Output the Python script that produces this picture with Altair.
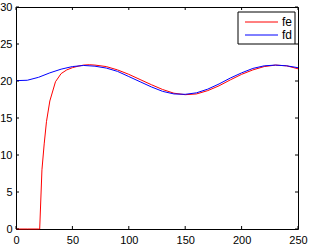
import altair as alt
import pandas as pd

fd_x = [0, 10, 20, 30, 40, 50, 60, 70, 80, 90, 100, 110, 120, 130, 140, 150, 160, 170, 180, 190, 200, 210, 220, 230, 240, 250]
fd_y = [20.05, 20.1, 20.5, 21.1, 21.6, 21.95, 22.1, 22.0, 21.75, 21.3, 20.6, 19.9, 19.2, 18.6, 18.25, 18.2, 18.4, 18.9, 19.6, 20.4, 21.1, 21.7, 22.05, 22.15, 22.05, 21.8]

fe_x = [0, 10, 20, 21, 23, 25, 27, 30, 35, 40, 45, 50, 55, 60, 65, 70, 80, 90, 100, 110, 120, 130, 140, 150, 160, 170, 180, 190, 200, 210, 220, 230, 240, 250]
fe_y = [0, 0, 0, 0, 8, 11.5, 14.5, 17.3, 19.9, 21.0, 21.5, 21.8, 22.0, 22.15, 22.2, 22.15, 21.95, 21.5, 20.9, 20.2, 19.5, 18.85, 18.35, 18.15, 18.25, 18.7, 19.35, 20.15, 20.9, 21.5, 21.95, 22.15, 22.05, 21.65]

x_ticks = [0, 50, 100, 150, 200, 250]
y_ticks = [0, 5, 10, 15, 20, 25, 30]
series = ["fe", "fd"]
colors = ["#ff0000", "#0000ff"]

W, H = 282, 222
FONT = "Liberation Sans"

df = pd.concat([
    pd.DataFrame({"x": fe_x, "y": fe_y, "s": "fe", "o": range(len(fe_x))}),
    pd.DataFrame({"x": fd_x, "y": fd_y, "s": "fd", "o": range(len(fd_x))}),
])

xs = alt.Scale(domain=[0, 250], nice=False)
ys = alt.Scale(domain=[0, 30], nice=False)
xa = alt.Axis(values=x_ticks, title=None, ticks=False, domain=False, grid=False,
              labelFont=FONT, labelFontSize=11, labelColor="#000",
              labelPadding=5, labelFlush=False, labelOverlap=False)
ya = alt.Axis(values=y_ticks, title=None, ticks=False, domain=False, grid=False,
              labelFont=FONT, labelFontSize=11, labelColor="#000",
              labelPadding=4, labelFlush=False, labelOverlap=False)

lines = alt.Chart(df).mark_line(strokeWidth=1).encode(
    x=alt.X("x:Q", scale=xs, axis=xa),
    y=alt.Y("y:Q", scale=ys, axis=ya),
    color=alt.Color("s:N", scale=alt.Scale(domain=series, range=colors), legend=None),
    order="o:O",
)

xt = pd.DataFrame({"v": x_ticks})
yt = pd.DataFrame({"v": y_ticks})
tl = 3
bottom = alt.Chart(xt).mark_rule(color="#000").encode(x=alt.X("v:Q", scale=xs, axis=xa), y=alt.value(H), y2=alt.value(H - tl))
top = alt.Chart(xt).mark_rule(color="#000").encode(x=alt.X("v:Q", scale=xs, axis=xa), y=alt.value(0), y2=alt.value(tl))
left = alt.Chart(yt).mark_rule(color="#000").encode(y=alt.Y("v:Q", scale=ys, axis=ya), x=alt.value(0), x2=alt.value(tl))
right = alt.Chart(yt).mark_rule(color="#000").encode(y=alt.Y("v:Q", scale=ys, axis=ya), x=alt.value(W), x2=alt.value(W - tl))

# legend drawn by hand (MATLAB style box)
one = pd.DataFrame({"a": [0]})
box = alt.Chart(one).mark_rect(fill="#fff", stroke="#000", strokeWidth=1).encode(
    x=alt.value(222), x2=alt.value(279), y=alt.value(5), y2=alt.value(37))
layers = [lines, bottom, top, left, right, box]
for i, (name, col) in enumerate(zip(series, colors)):
    yy = 15 + i * 13
    d = pd.DataFrame({"s": [name]})
    layers.append(alt.Chart(d).mark_rule(color=col, strokeWidth=1).encode(
        x=alt.value(229), x2=alt.value(262), y=alt.value(yy)))
    layers.append(alt.Chart(d).mark_text(align="left", baseline="middle", font=FONT, fontSize=12, color="#000").encode(
        text="s:N", x=alt.value(266), y=alt.value(yy)))

chart = alt.layer(*layers).properties(
    width=W, height=H,
    autosize=alt.AutoSizeParams(type="none"),
    padding={"left": 16, "top": 7, "right": 14, "bottom": 17},
    background="white",
).configure_view(stroke="#000", strokeWidth=1)

chart.save("out.html", embed_options={"renderer": "svg", "actions": False})
